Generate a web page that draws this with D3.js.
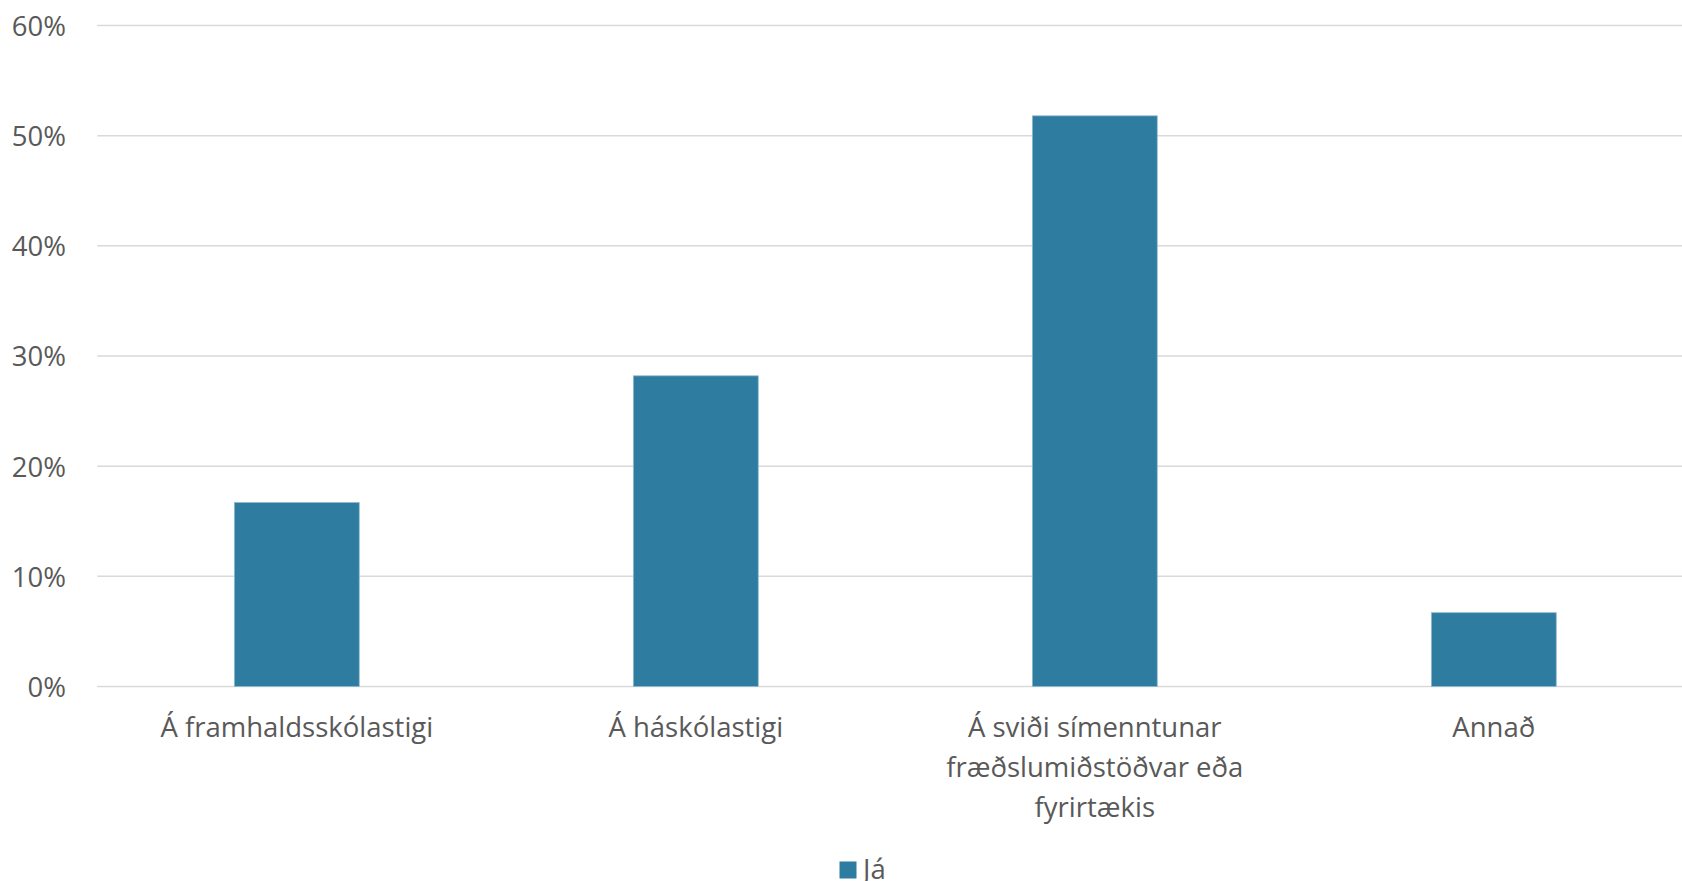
<!DOCTYPE html>
<html><head><meta charset="utf-8">
<script src="https://cdn.jsdelivr.net/npm/d3@7"></script>
<style>body{margin:0;background:#fff;overflow:hidden}svg{display:block}text{font-family:"Open Sans",sans-serif;fill:#595959}</style>
</head><body><svg id="c" width="1682" height="881"></svg>
<script>
const categories = [["Á framhaldsskólastigi"],["Á háskólastigi"],["Á sviði símenntunar","fræðslumiðstöðvar eða","fyrirtækis"],["Annað"]];
const values = [0.167, 0.282, 0.518, 0.067];
const yTicks = [0,0.1,0.2,0.3,0.4,0.5,0.6];
const seriesName = "Já";
const color = "#2e7ca0";

const svg = d3.select("#c");
const x = d3.scaleBand().domain(d3.range(categories.length)).range([97.3, 1693.3]).padding(0);
const y = d3.scaleLinear().domain([0,0.6]).range([686.5, 25.5]);
const barW = x.bandwidth()*0.313;
const fs = "27.5px";

svg.append("g").selectAll("line").data(yTicks).join("line")
  .attr("x1",97.3).attr("x2",1682).attr("y1",d=>y(d)).attr("y2",d=>y(d))
  .attr("stroke","#d9d9d9").attr("stroke-width",1.5);

const yAxis = d3.axisLeft(y).tickValues(yTicks).tickFormat(d3.format(".0%")).tickSize(0).tickPadding(0);
const ga = svg.append("g").attr("transform","translate(66,0)").call(yAxis);
ga.select(".domain").remove();
ga.selectAll("text").style("font-size",fs).attr("fill","#595959").attr("dy","0.36em");

svg.append("g").selectAll("rect").data(values).join("rect")
  .attr("x",(d,i)=>x(i)+x.bandwidth()/2-barW/2).attr("width",barW)
  .attr("y",d=>y(d)).attr("height",d=>y(0)-y(d))
  .attr("fill",color).attr("stroke","#8fb9cf").attr("stroke-width",0.8);

const xl = svg.append("g");
categories.forEach((lines,i)=>{
  const t = xl.append("text").attr("text-anchor","middle").style("font-size",fs);
  lines.forEach((l,j)=>t.append("tspan").attr("x",x(i)+x.bandwidth()/2).attr("y",737+j*40).text(l));
});

svg.append("rect").attr("x",839.5).attr("y",861.5).attr("width",17).attr("height",17).attr("fill",color);
svg.append("text").attr("x",863).attr("y",879).style("font-size",fs).text(seriesName);
</script></body></html>
